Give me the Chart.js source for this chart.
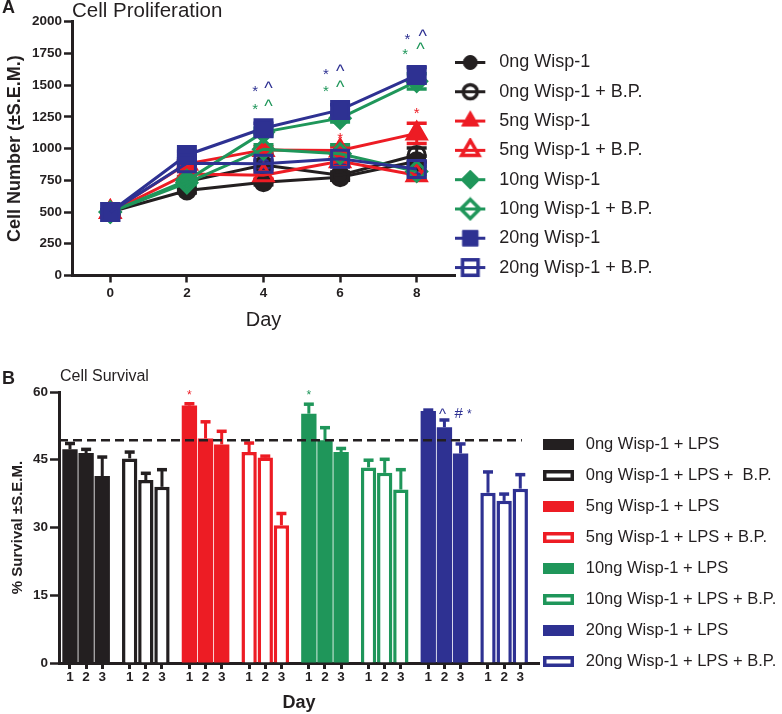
<!DOCTYPE html>
<html>
<head>
<meta charset="utf-8">
<script src="https://cdn.jsdelivr.net/npm/chart.js@4/dist/chart.umd.min.js"></script>
<style>
  body { margin: 0; background: #fff; }
  #wrap { position: relative; width: 782px; height: 714px; overflow: hidden;
          font-family: "Liberation Sans", Arial, Helvetica, sans-serif; color: #231f20; }
  .panel { position: absolute; font-weight: bold; font-size: 18px; line-height: 18px; }
  #cA { position: absolute; left: 0; top: 0; }
  #cB { position: absolute; left: 0; top: 380px; }
  #titleB { position: absolute; left: 60px; top: 368px; font-size: 16px; line-height: 16px; }
</style>
</head>
<body>
<div id="wrap">
  <canvas id="cA" width="782" height="330"></canvas>
  <canvas id="cB" width="782" height="334"></canvas>
  <div class="panel" style="left:2px;top:-2px;">A</div>
  <div class="panel" style="left:2px;top:369px;">B</div>
  <div id="titleB">Cell Survival</div>
</div>
<script>
// ---------------- Panel A data: Cell Proliferation ----------------
const days = [0, 2, 4, 6, 8];
const proliferationNames = ['0ng Wisp-1', '0ng Wisp-1 + B.P.', '5ng Wisp-1', '5ng Wisp-1 + B.P.',
                            '10ng Wisp-1', '10ng Wisp-1 + B.P.', '20ng Wisp-1', '20ng Wisp-1 + B.P.'];
const cells0ng      = [500, 670, 735, 775, 900];
const cells0ngBP    = [500, 740, 870, 790, 950];
const cells5ng      = [500, 880, 990, 985, 1120];
const cells5ngBP    = [500, 800, 790, 900, 790];
const cells10ng     = [500, 750, 1130, 1240, 1530];
const cells10ngBP   = [500, 730, 995, 960, 820];
const cells20ng     = [500, 950, 1160, 1305, 1580];
const cells20ngBP   = [500, 885, 880, 920, 840];
const sem0ng    = [15, 20, 20, 25, 40];
const sem0ngBP  = [15, 25, 30, 25, 55];
const sem5ng    = [15, 25, 25, 30, 80];
const sem5ngBP  = [15, 20, 25, 30, 40];
const sem10ng   = [15, 25, 30, 30, 60];
const sem10ngBP = [15, 20, 35, 70, 40];
const sem20ng   = [15, 30, 40, 40, 60];
const sem20ngBP = [15, 20, 30, 35, 40];
// significance marks (day, value, symbol)
const marksADay   = [3.78, 4.13, 3.78, 4.13, 5.63, 6.0, 5.63, 6.0, 7.76, 8.16, 7.7, 8.1, 6.0, 8.0];
const marksAValue = [1475, 1493, 1336, 1351, 1611, 1630, 1478, 1500, 1887, 1901, 1764, 1803, 1107, 1299];
const marksAText  = ['*', '^', '*', '^', '*', '^', '*', '^', '*', '^', '*', '^', '*', '*'];

// ---------------- Panel B data: Cell Survival ----------------
const survivalDays = ['1', '2', '3'];
const survivalNames = ['0ng Wisp-1 + LPS', '0ng Wisp-1 + LPS +  B.P.', '5ng Wisp-1 + LPS', '5ng Wisp-1 + LPS + B.P.',
                       '10ng Wisp-1 + LPS', '10ng Wisp-1 + LPS + B.P.', '20ng Wisp-1 + LPS', '20ng Wisp-1 + LPS + B.P.'];
const surv0ng      = [47.3, 46.5, 41.4];
const surv0ngBP    = [45.3, 40.5, 39.0];
const surv5ng      = [57.0, 49.7, 48.4];
const surv5ngBP    = [46.7, 45.5, 30.5];
const surv10ng     = [55.2, 49.3, 46.7];
const surv10ngBP   = [43.3, 42.1, 38.4];
const surv20ng     = [55.8, 52.2, 46.4];
const surv20ngBP   = [37.7, 35.9, 38.6];
const survSem0ng    = [1.3, 0.8, 4.2];
const survSem0ngBP  = [1.4, 1.5, 3.8];
const survSem5ng    = [0.4, 3.7, 2.9];
const survSem5ngBP  = [2.0, 0.3, 2.6];
const survSem10ng   = [2.1, 2.8, 0.8];
const survSem10ngBP = [1.6, 3.0, 4.4];
const survSem20ng   = [0.2, 1.6, 2.1];
const survSem20ngBP = [4.6, 1.5, 3.1];
const controlLevel = 49.3;
// marks: group index, position within group (in bar units), value, symbol
const marksBGroup = [2, 4, 6, 6, 6];
const marksBPos   = [0, 0, 0.88, 1.88, 2.55];
const marksBValue = [59.85, 59.7, 55.6, 55.2, 55.6];
const marksBText  = ['*', '*', '^', '#', '*'];

// ---------------- styles ----------------
const DARK = '#231f20', RED = '#ed1c24', GREEN = '#1f965a', BLUE = '#2e3192';
const FONT = '"Liberation Sans", Arial, Helvetica, sans-serif';
Chart.defaults.font.family = FONT;
Chart.defaults.color = DARK;

const seriesA = [
  { label: proliferationNames[0], data: cells0ng,    err: sem0ng,    color: DARK,  style: 'circle',   r: 8.5, lr: 7,   open: false },
  { label: proliferationNames[1], data: cells0ngBP,  err: sem0ngBP,  color: DARK,  style: 'circle',   r: 8.5, lr: 7,   open: true },
  { label: proliferationNames[2], data: cells5ng,    err: sem5ng,    color: RED,   style: 'triangle', r: 11,  lr: 10,  open: false },
  { label: proliferationNames[3], data: cells5ngBP,  err: sem5ngBP,  color: RED,   style: 'triangle', r: 11,  lr: 10,  open: true },
  { label: proliferationNames[4], data: cells10ng,   err: sem10ng,   color: GREEN, style: 'rectRot',  r: 10,  lr: 9.5, open: false },
  { label: proliferationNames[5], data: cells10ngBP, err: sem10ngBP, color: GREEN, style: 'rectRot',  r: 10,  lr: 9.5, open: true },
  { label: proliferationNames[6], data: cells20ng,   err: sem20ng,   color: BLUE,  style: 'rect',     r: 12,  lr: 11,  open: false },
  { label: proliferationNames[7], data: cells20ngBP, err: sem20ngBP, color: BLUE,  style: 'rect',     r: 12,  lr: 11,  open: true }
];
const marksAColor = [BLUE, BLUE, GREEN, GREEN, BLUE, BLUE, GREEN, GREEN, BLUE, BLUE, GREEN, GREEN, RED, RED];

const seriesB = [
  { label: survivalNames[0], values: surv0ng,    err: survSem0ng,    color: DARK,  open: false },
  { label: survivalNames[1], values: surv0ngBP,  err: survSem0ngBP,  color: DARK,  open: true },
  { label: survivalNames[2], values: surv5ng,    err: survSem5ng,    color: RED,   open: false },
  { label: survivalNames[3], values: surv5ngBP,  err: survSem5ngBP,  color: RED,   open: true },
  { label: survivalNames[4], values: surv10ng,   err: survSem10ng,   color: GREEN, open: false },
  { label: survivalNames[5], values: surv10ngBP, err: survSem10ngBP, color: GREEN, open: true },
  { label: survivalNames[6], values: surv20ng,   err: survSem20ng,   color: BLUE,  open: false },
  { label: survivalNames[7], values: surv20ngBP, err: survSem20ngBP, color: BLUE,  open: true }
];
const marksBColor = [RED, GREEN, BLUE, BLUE, BLUE];
const GROUP_STEP = 3.7;
const barX = (g, d) => g * GROUP_STEP + d;

// ---------------- legend icons ----------------
function shapePath(g, style, cx, cy, r) {
  g.beginPath();
  if (style === 'circle') {
    g.arc(cx, cy, r, 0, Math.PI * 2);
  } else if (style === 'triangle') {
    for (let k = 0; k < 3; k++) {
      const a = k * 2 * Math.PI / 3;
      const px = cx + Math.sin(a) * r, py = cy - Math.cos(a) * r;
      if (k === 0) g.moveTo(px, py); else g.lineTo(px, py);
    }
    g.closePath();
  } else if (style === 'rectRot') {
    g.moveTo(cx - r, cy); g.lineTo(cx, cy - r); g.lineTo(cx + r, cy); g.lineTo(cx, cy + r); g.closePath();
  } else {
    const h = r * Math.SQRT1_2;
    g.rect(cx - h, cy - h, 2 * h, 2 * h);
  }
}
function lineIcon(s) {
  const c = document.createElement('canvas');
  c.width = 46; c.height = 25;
  const g = c.getContext('2d');
  const cx = 15, cy = 12.5;
  const line = () => { g.strokeStyle = s.color; g.lineWidth = 3; g.beginPath(); g.moveTo(0, cy); g.lineTo(30, cy); g.stroke(); };
  const mark = () => {
    shapePath(g, s.style, cx, cy, s.lr);
    g.fillStyle = s.open ? '#fff' : s.color; g.fill();
    g.strokeStyle = s.color; g.lineWidth = s.open ? 3.5 : 1; g.stroke();
  };
  if (s.open) { mark(); line(); } else { line(); mark(); }
  return c;
}
function boxIcon(s) {
  const c = document.createElement('canvas');
  c.width = 45; c.height = 11;
  const g = c.getContext('2d');
  if (s.open) {
    g.fillStyle = '#fff'; g.fillRect(0, 0, 31, 11);
    g.strokeStyle = s.color; g.lineWidth = 3.5; g.strokeRect(1.75, 1.75, 31 - 3.5, 11 - 3.5);
  } else {
    g.fillStyle = s.color; g.fillRect(0, 0, 31, 11);
  }
  return c;
}
const iconsA = seriesA.map(lineIcon);
const iconsB = seriesB.map(boxIcon);

function legendLabels(icons) {
  return function (chart) {
    const items = Chart.defaults.plugins.legend.labels.generateLabels(chart);
    items.sort((a, b) => a.datasetIndex - b.datasetIndex);
    items.forEach(it => { it.pointStyle = icons[it.datasetIndex]; it.fontColor = DARK; });
    return items;
  };
}

// ---------------- plugins ----------------
const errorBarsA = {
  id: 'errorBarsA',
  beforeDatasetsDraw(chart) {
    const { ctx, scales: { x, y } } = chart;
    ctx.save();
    seriesA.forEach(s => {
      ctx.strokeStyle = s.color;
      s.data.forEach((v, j) => {
        const px = x.getPixelForValue(days[j]);
        const top = y.getPixelForValue(v + s.err[j]);
        const bot = y.getPixelForValue(v - s.err[j]);
        ctx.lineWidth = 3;
        ctx.beginPath(); ctx.moveTo(px, top); ctx.lineTo(px, bot); ctx.stroke();
        ctx.lineWidth = 3.5;
        ctx.beginPath();
        ctx.moveTo(px - 10, top); ctx.lineTo(px + 10, top);
        ctx.moveTo(px - 10, bot); ctx.lineTo(px + 10, bot);
        ctx.stroke();
      });
    });
    ctx.restore();
  },
  afterDatasetsDraw(chart) {
    const { ctx, scales: { x, y } } = chart;
    ctx.save();
    ctx.textAlign = 'center'; ctx.textBaseline = 'middle';
    marksAText.forEach((t, i) => {
      const size = t === '*' ? 15 : 18;
      ctx.font = size + 'px ' + FONT;
      ctx.fillStyle = marksAColor[i];
      const off = t === '*' ? 0.23 * size : 0.17 * size;
      ctx.fillText(t, x.getPixelForValue(marksADay[i]), y.getPixelForValue(marksAValue[i]) + off);
    });
    ctx.restore();
  }
};

const extrasB = {
  id: 'extrasB',
  afterDatasetsDraw(chart) {
    const { ctx, scales: { x, y }, chartArea } = chart;
    ctx.save();
    // error bars (upper)
    seriesB.forEach((s, g) => {
      ctx.strokeStyle = s.color;
      s.values.forEach((v, d) => {
        const px = x.getPixelForValue(barX(g, d));
        const base = y.getPixelForValue(v);
        const top = y.getPixelForValue(v + s.err[d]);
        ctx.lineWidth = 3;
        ctx.beginPath(); ctx.moveTo(px, base); ctx.lineTo(px, top); ctx.stroke();
        ctx.lineWidth = 3.5;
        ctx.beginPath(); ctx.moveTo(px - 5, top); ctx.lineTo(px + 5, top); ctx.stroke();
      });
    });
    // dashed control line
    const yy = y.getPixelForValue(controlLevel);
    ctx.strokeStyle = DARK; ctx.lineWidth = 2.5; ctx.setLineDash([9, 5]);
    ctx.beginPath(); ctx.moveTo(chartArea.left, yy); ctx.lineTo(x.getPixelForValue(28.0), yy); ctx.stroke();
    ctx.setLineDash([]);
    // marks
    ctx.textAlign = 'center'; ctx.textBaseline = 'middle';
    marksBText.forEach((t, i) => {
      const size = t === '*' ? 12 : 15;
      ctx.font = size + 'px ' + FONT;
      ctx.fillStyle = marksBColor[i];
      const off = t === '*' ? 0.23 * size : (t === '^' ? 0.17 * size : 0);
      ctx.fillText(t, x.getPixelForValue(marksBGroup[i] * GROUP_STEP + marksBPos[i]), y.getPixelForValue(marksBValue[i]) + off);
    });
    ctx.restore();
  }
};

// ---------------- Chart A ----------------
new Chart(document.getElementById('cA'), {
  type: 'line',
  data: {
    datasets: seriesA.map((s, i) => ({
      label: s.label,
      data: s.data.map((v, j) => ({ x: days[j], y: v })),
      borderColor: s.color,
      borderWidth: 3,
      pointStyle: s.style,
      pointRadius: s.r,
      pointBorderWidth: 3,
      pointBorderColor: s.color,
      pointBackgroundColor: s.open ? 'rgba(255,255,255,0)' : s.color,
      fill: false,
      tension: 0,
      order: seriesA.length - 1 - i
    }))
  },
  options: {
    responsive: false, animation: false, devicePixelRatio: 1,
    layout: { padding: { left: 0, right: 127, top: 0, bottom: 0 } },
    plugins: {
      title: { display: true, text: 'Cell Proliferation', align: 'start', fullSize: false, color: DARK,
               font: { size: 20.5, weight: 'normal', lineHeight: 1.06 }, padding: 0 },
      legend: { position: 'right', align: 'center', maxWidth: 200,
                labels: { usePointStyle: true, pointStyleWidth: 24, padding: 11.3, color: DARK,
                          font: { size: 18 }, generateLabels: legendLabels(iconsA) } },
      tooltip: { enabled: false }
    },
    scales: {
      x: {
        type: 'linear', min: -1, max: 9, offset: false,
        afterBuildTicks: sc => { sc.ticks = days.map(v => ({ value: v })); },
        afterFit: sc => { sc.height = 54.5; },
        grid: { drawOnChartArea: false, drawTicks: true, tickLength: 7, tickWidth: 2.5, tickColor: DARK },
        border: { color: DARK, width: 3 },
        ticks: { color: DARK, font: { size: 13.5, weight: 'bold' }, padding: 3, maxRotation: 0, autoSkip: false,
                 callback: v => String(v) },
        title: { display: true, text: 'Day', color: DARK, font: { size: 20, lineHeight: 1 }, padding: { top: 0, bottom: 0 } }
      },
      y: {
        min: 0, max: 2000,
        afterFit: sc => { sc.width = 72; },
        grid: { drawOnChartArea: false, drawTicks: true, tickLength: 8, tickWidth: 2.5, tickColor: DARK },
        border: { color: DARK, width: 3 },
        ticks: { stepSize: 250, color: DARK, font: { size: 13.5, weight: 'bold' }, padding: 2,
                 callback: v => String(v) },
        title: { display: true, text: 'Cell Number (±S.E.M.)', color: DARK, font: { size: 18, weight: 'bold' }, padding: { top: 4, bottom: 0 } }
      }
    }
  },
  plugins: [errorBarsA]
});

// ---------------- Chart B ----------------
new Chart(document.getElementById('cB'), {
  type: 'bar',
  data: {
    datasets: seriesB.map((s, g) => ({
      label: s.label,
      data: s.values.map((v, d) => ({ x: barX(g, d), y: v })),
      backgroundColor: s.open ? '#ffffff' : s.color,
      borderColor: s.color,
      borderWidth: s.open ? 3.5 : 0,
      grouped: false,
      categoryPercentage: 1,
      barPercentage: 0.95
    }))
  },
  options: {
    responsive: false, animation: false, devicePixelRatio: 1,
    layout: { padding: { left: 0, right: 0, top: 12, bottom: 0 } },
    plugins: {
      legend: { position: 'right', align: 'center', maxWidth: 243,
                labels: { usePointStyle: true, pointStyleWidth: 24, padding: 14.5, color: DARK,
                          font: { size: 16.5 }, generateLabels: legendLabels(iconsB) } },
      tooltip: { enabled: false }
    },
    scales: {
      x: {
        type: 'linear', min: -0.68, max: 29.06, offset: false,
        afterBuildTicks: sc => {
          const t = [];
          seriesB.forEach((s, g) => survivalDays.forEach((lab, d) => t.push({ value: barX(g, d) })));
          sc.ticks = t;
        },
        afterFit: sc => { sc.height = 51; },
        grid: { drawOnChartArea: false, drawTicks: true, tickLength: 6, tickWidth: 3, tickColor: DARK, offset: false },
        border: { color: DARK, width: 3 },
        ticks: { color: DARK, font: { size: 13.5, weight: 'bold' }, padding: 0, maxRotation: 0, autoSkip: false,
                 callback: (v, i) => survivalDays[i % survivalDays.length] },
        title: { display: true, text: 'Day', color: DARK, font: { size: 18, weight: 'bold' }, padding: { top: 0, bottom: 0 } }
      },
      y: {
        min: 0, max: 60,
        afterFit: sc => { sc.width = 59; },
        grid: { drawOnChartArea: false, drawTicks: true, tickLength: 9, tickWidth: 2.5, tickColor: DARK },
        border: { color: DARK, width: 3 },
        ticks: { stepSize: 15, color: DARK, font: { size: 13.5, weight: 'bold' }, padding: 2 },
        title: { display: true, text: '% Survival ±S.E.M.', color: DARK, font: { size: 15, weight: 'bold' }, padding: { top: 9, bottom: 0 } }
      }
    }
  },
  plugins: [extrasB]
});
</script>
</body>
</html>
